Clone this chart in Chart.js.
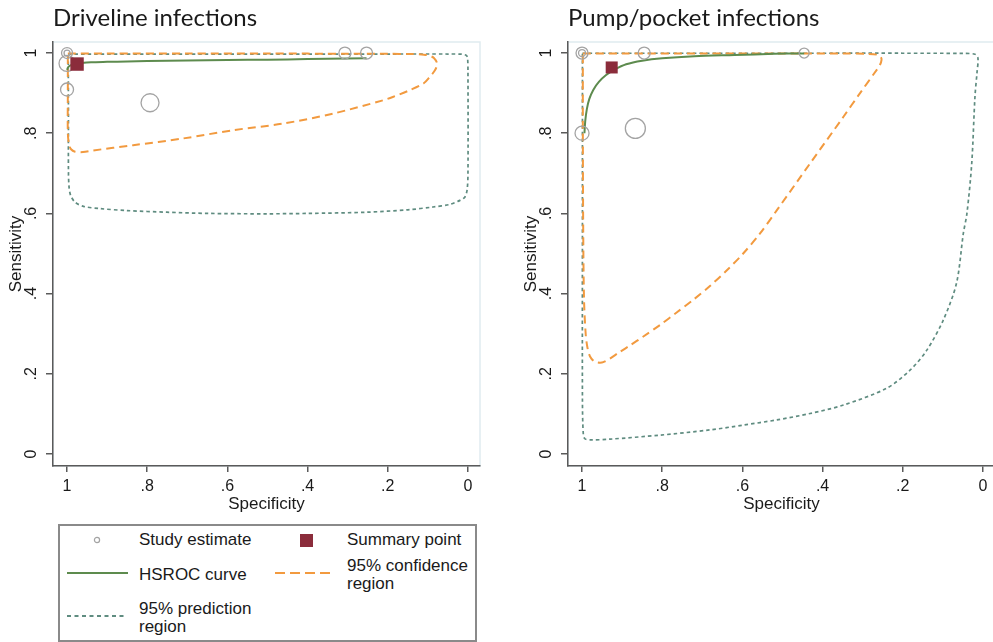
<!DOCTYPE html>
<html>
<head>
<meta charset="utf-8">
<script src="https://cdn.jsdelivr.net/npm/chart.js@4.4.1/dist/chart.umd.min.js"></script>
<style>
  html, body { margin: 0; padding: 0; background: #fff; }
  body { width: 993px; height: 642px; position: relative; overflow: hidden;
         font-family: "Liberation Sans", Arial, sans-serif; color: #1a1a1a; }
  .panel { position: absolute; top: 0; }
  .box { position: absolute; left: 58px; top: 524px; width: 415px; height: 114px; border: 2px solid #8a8a8a; }
  .key { position: absolute; display: block; }
  .lbl { position: absolute; font-size: 17px; line-height: 18px; white-space: nowrap; }
</style>
</head>
<body>
<div class="panel" style="left:0"><canvas id="drive" width="495" height="520"></canvas></div>
<div class="panel" style="left:515px"><canvas id="pump" width="500" height="520"></canvas></div>

<!-- legend (Stata style, two columns) -->
<div class="box"></div>
<svg class="key" style="left:92px;top:535px" width="10" height="10"><circle cx="5" cy="5" r="2.6" fill="none" stroke="#a3a3a3" stroke-width="1.2"/></svg>
<div class="lbl" style="left:139px;top:531px">Study estimate</div>
<div class="key" style="left:300px;top:534px;width:13px;height:13px;background:#8b2c3b"></div>
<div class="lbl" style="left:347px;top:531px">Summary point</div>
<svg class="key" style="left:67px;top:570px" width="61" height="6"><line x1="0" y1="3" x2="61" y2="3" stroke="#5d8b4e" stroke-width="2"/></svg>
<div class="lbl" style="left:139px;top:566px">HSROC curve</div>
<svg class="key" style="left:275px;top:570px" width="58" height="6"><line x1="0" y1="3" x2="58" y2="3" stroke="#f29a3f" stroke-width="2" stroke-dasharray="10 5"/></svg>
<div class="lbl" style="left:347px;top:557px">95% confidence<br>region</div>
<svg class="key" style="left:67px;top:613px" width="58" height="6"><line x1="0" y1="3" x2="58" y2="3" stroke="#5f8c80" stroke-width="1.8" stroke-dasharray="4 3.5"/></svg>
<div class="lbl" style="left:139px;top:600px">95% prediction<br>region</div>

<script>
// axis ticks (Stata style labels)
const tickValues = [0, 0.2, 0.4, 0.6, 0.8, 1];
const tickLabels = ['0', '.2', '.4', '.6', '.8', '1'];

// Driveline infections
const driveStudySpec = [1.0, 1.0, 1.0, 1.0, 0.793, 0.307, 0.253];
const driveStudySens = [1.0, 1.0, 0.974, 0.909, 0.876, 1.0, 1.0];
const driveSummarySpec = [0.975];
const driveSummarySens = [0.9725];
const driveCurveSpec = [1.0, 0.997, 0.99, 0.98, 0.965, 0.94, 0.9, 0.85, 0.75, 0.65, 0.55, 0.45, 0.35, 0.253];
const driveCurveSens = [0.958, 0.965, 0.970, 0.973, 0.975, 0.977, 0.978, 0.979, 0.981, 0.982, 0.983, 0.984, 0.986, 0.987];
const driveConfSpec = [0.998, 0.9, 0.7, 0.5, 0.3, 0.2, 0.142, 0.11, 0.095, 0.085, 0.077, 0.082, 0.095, 0.111, 0.145, 0.186,
  0.212, 0.336, 0.461, 0.586, 0.71, 0.835, 0.935, 0.96, 0.98, 0.99, 0.995, 0.998, 0.998, 0.998];
const driveConfSens = [0.999, 0.999, 0.999, 0.999, 0.998, 0.998, 0.9975, 0.996, 0.993, 0.9875, 0.974, 0.9575, 0.941, 0.924, 0.9075, 0.891,
  0.882, 0.849, 0.824, 0.8075, 0.787, 0.77, 0.757, 0.753, 0.754, 0.760, 0.772, 0.80, 0.90, 0.999];
const drivePredSpec = [0.997, 0.8, 0.6, 0.4, 0.2, 0.05, 0.015, 0.004, 0.001, 0.0, 0.0, 0.002, 0.0075, 0.02, 0.045, 0.087,
  0.15, 0.252, 0.4, 0.502, 0.65, 0.751, 0.85, 0.918, 0.959, 0.98, 0.991, 0.995, 0.9965, 0.9965, 0.997];
const drivePredSens = [0.9975, 0.9975, 0.9975, 0.9975, 0.9975, 0.9975, 0.997, 0.994, 0.988, 0.95, 0.70, 0.66, 0.641, 0.6325, 0.6225, 0.616,
  0.609, 0.603, 0.6, 0.599, 0.6, 0.603, 0.607, 0.612, 0.6175, 0.628, 0.645, 0.666, 0.7075, 0.85, 0.9975];

// Pump/pocket infections
const pumpStudySpec = [1.0, 1.0, 0.845, 0.446, 1.0, 0.867];
const pumpStudySens = [1.0, 1.0, 1.0, 1.0, 0.80, 0.812];
const pumpSummarySpec = [0.926];
const pumpSummarySens = [0.964];
const pumpCurveSpec = [0.994, 0.992, 0.988, 0.982, 0.972, 0.958, 0.94, 0.92, 0.89, 0.85, 0.80, 0.72, 0.62, 0.52, 0.446];
const pumpCurveSens = [0.80, 0.83, 0.86, 0.885, 0.908, 0.928, 0.945, 0.958, 0.972, 0.981, 0.987, 0.992, 0.995, 0.998, 0.999];
const pumpConfSpec = [0.998, 0.9, 0.7, 0.5, 0.35, 0.29, 0.265, 0.255, 0.253, 0.257, 0.265, 0.307, 0.348, 0.431, 0.514, 0.556,
  0.598, 0.64, 0.681, 0.722, 0.764, 0.805, 0.847, 0.88, 0.905, 0.947, 0.968, 0.98, 0.987, 0.991, 0.995, 0.997, 0.998, 0.998];
const pumpConfSens = [0.999, 0.999, 0.999, 0.999, 0.999, 0.998, 0.996, 0.99, 0.983, 0.970, 0.958, 0.8995, 0.841, 0.725, 0.608, 0.55,
  0.50, 0.457, 0.419, 0.385, 0.353, 0.322, 0.293, 0.271, 0.255, 0.229, 0.230, 0.243, 0.268, 0.301, 0.384, 0.55, 0.8, 0.999];
const pumpPredSpec = [0.999, 0.8, 0.6, 0.4, 0.2, 0.05, 0.02, 0.0125, 0.015, 0.02, 0.028, 0.04, 0.049, 0.066, 0.099, 0.14,
  0.182, 0.24, 0.348, 0.431, 0.514, 0.598, 0.681, 0.805, 0.93, 0.98, 0.993, 0.997, 0.999, 0.999, 0.999];
const pumpPredSens = [0.9995, 0.9995, 0.9995, 0.9995, 0.9995, 0.999, 0.997, 0.987, 0.95, 0.891, 0.725, 0.6, 0.55, 0.426, 0.334, 0.259,
  0.209, 0.164, 0.122, 0.101, 0.085, 0.072, 0.06, 0.047, 0.037, 0.035, 0.038, 0.052, 0.135, 0.6, 0.9995];

const COL_STUDY = '#a3a3a3';
const COL_SUMMARY = '#8b2c3b';
const COL_HSROC = '#5d8b4e';
const COL_CONF = '#f29a3f';
const COL_PRED = '#5f8c80';
const COL_AXIS = '#5a5a5a';
const COL_FRAME = '#e0ebf0';
const FONT = 'Liberation Sans';

const toXY = (spec, sens) => spec.map((s, i) => ({ x: s, y: sens[i] }));

// light outline of the plot region, drawn under the axes
const plotFrame = {
  id: 'plotFrame',
  beforeDraw(chart) {
    const { ctx, chartArea: a } = chart;
    ctx.save();
    ctx.strokeStyle = COL_FRAME;
    ctx.lineWidth = 1.5;
    ctx.strokeRect(a.left, a.top, a.right - a.left, a.bottom - a.top);
    ctx.restore();
  },
};

function axis(title, isY) {
  return {
    type: 'linear',
    reverse: !isY,
    min: -0.03,
    max: isY ? 1.0275 : 1.035,
    afterBuildTicks: (a) => { a.ticks = tickValues.map((v) => ({ value: v })); },
    afterFit: (a) => { if (isY) a.width = 53; else a.height = 54; },
    ticks: {
      callback: (v) => tickLabels[tickValues.indexOf(v)],
      font: { family: FONT, size: 16 },
      color: '#1a1a1a',
      padding: isY ? 8 : 15,
      minRotation: isY ? 90 : 0,
      maxRotation: isY ? 90 : 0,
      crossAlign: 'center',
    },
    grid: { drawOnChartArea: false, tickLength: isY ? 7 : 6, color: COL_AXIS, lineWidth: 1.5 },
    border: { color: COL_AXIS, width: 1.5 },
    title: {
      display: true,
      text: title,
      color: '#1a1a1a',
      font: { family: FONT, size: 17 },
      padding: isY ? { top: 6, bottom: 0 } : { top: 0, bottom: 5 },
    },
  };
}

function buildPanel(id, title, d, padRight) {
  return new Chart(document.getElementById(id), {
    type: 'scatter',
    data: {
      datasets: [
        {
          label: 'Summary point',
          data: toXY(d.summarySpec, d.summarySens),
          pointStyle: 'rect',
          pointRadius: d.summaryRadius,
          backgroundColor: COL_SUMMARY,
          borderColor: COL_SUMMARY,
          borderWidth: 0,
        },
        {
          label: 'Study estimate',
          data: toXY(d.studySpec, d.studySens),
          pointRadius: d.studyRadius,
          backgroundColor: 'rgba(0,0,0,0)',
          borderColor: COL_STUDY,
          borderWidth: 1.3,
        },
        {
          label: 'HSROC curve',
          data: toXY(d.curveSpec, d.curveSens),
          showLine: true,
          pointRadius: 0,
          borderColor: COL_HSROC,
          borderWidth: 2,
          tension: 0.3,
        },
        {
          label: '95% confidence region',
          data: toXY(d.confSpec, d.confSens),
          showLine: true,
          pointRadius: 0,
          borderColor: COL_CONF,
          borderWidth: 2,
          borderDash: [8, 5],
          tension: 0.3,
        },
        {
          label: '95% prediction region',
          data: toXY(d.predSpec, d.predSens),
          showLine: true,
          pointRadius: 0,
          borderColor: COL_PRED,
          borderWidth: 1.7,
          borderDash: [3.5, 3],
          tension: 0.3,
        },
      ],
    },
    options: {
      responsive: false,
      animation: false,
      events: [],
      layout: { padding: { left: 0, right: padRight, top: 0, bottom: 0 } },
      plugins: {
        legend: { display: false },
        tooltip: { enabled: false },
        title: {
          display: true,
          text: title,
          align: 'start',
          fullSize: false,
          color: '#1a1a1a',
          font: { family: 'Lato', size: 24, weight: 'normal', lineHeight: 1.2 },
          padding: { top: 4, bottom: 9.2 },
        },
      },
      scales: {
        x: axis('Specificity', false),
        y: axis('Sensitivity', true),
      },
    },
    plugins: [plotFrame],
  });
}

buildPanel('drive', 'Driveline infections', {
  studySpec: driveStudySpec, studySens: driveStudySens, studyRadius: [5.5, 3, 8, 6.5, 9, 6, 6],
  summarySpec: driveSummarySpec, summarySens: driveSummarySens, summaryRadius: 9.5,
  curveSpec: driveCurveSpec, curveSens: driveCurveSens,
  confSpec: driveConfSpec, confSens: driveConfSens,
  predSpec: drivePredSpec, predSens: drivePredSens,
}, 15);

buildPanel('pump', 'Pump/pocket infections', {
  studySpec: pumpStudySpec, studySens: pumpStudySens, studyRadius: [6, 3.5, 6, 5, 7, 10],
  summarySpec: pumpSummarySpec, summarySens: pumpSummarySens, summaryRadius: 8.5,
  curveSpec: pumpCurveSpec, curveSens: pumpCurveSens,
  confSpec: pumpConfSpec, confSens: pumpConfSens,
  predSpec: pumpPredSpec, predSens: pumpPredSens,
}, 20);
</script>
</body>
</html>
